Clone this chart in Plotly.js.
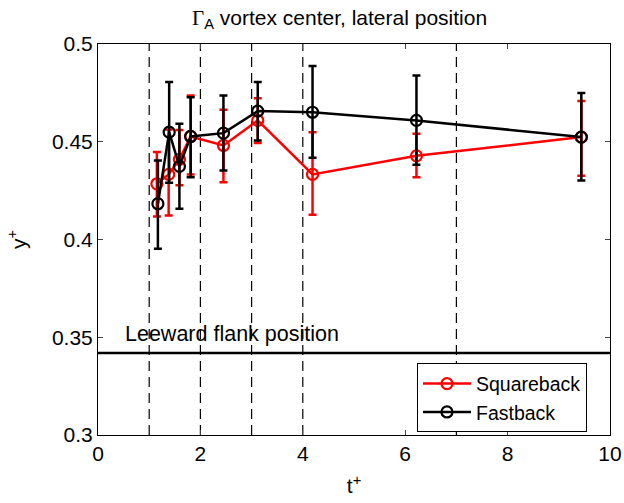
<!DOCTYPE html>
<html><head><meta charset="utf-8">
<script src="https://cdn.plot.ly/plotly-3.0.1.min.js"></script>
<style>body{margin:0;background:#fff}#plot{width:624px;height:503px}</style>
</head><body><div id="plot"></div>
<script>
// Data
const tSquare = [1.15, 1.38, 1.59, 1.81, 2.45, 3.12, 4.19, 6.22, 9.44];
const ySquare = [0.4285, 0.4333, 0.441, 0.4527, 0.4481, 0.4609, 0.4333, 0.4428, 0.4524];
const upSquare = [0.4447, 0.4563, 0.456, 0.4737, 0.4664, 0.4723, 0.4549, 0.4541, 0.4708];
const loSquare = [0.4118, 0.4123, 0.4277, 0.4333, 0.4293, 0.4493, 0.4127, 0.4319, 0.4326];

const tFast = [1.17, 1.39, 1.59, 1.81, 2.45, 3.12, 4.19, 6.22, 9.44];
const yFast = [0.4183, 0.4549, 0.4374, 0.4527, 0.4544, 0.4657, 0.4651, 0.4609, 0.4524];
const upFast = [0.4404, 0.4805, 0.4592, 0.4728, 0.4737, 0.4805, 0.4887, 0.4839, 0.4750];
const loFast = [0.3953, 0.429, 0.4157, 0.4319, 0.4353, 0.4507, 0.4418, 0.4382, 0.4302];

const dashedX = [1, 2, 3, 4, 7];
const leewardY = 0.342;
const leewardLabel = "Leeward flank position";
const seriesNames = ["Squareback", "Fastback"];

const FONT = "Liberation Sans, Arial, sans-serif";

function trace(t, y, up, lo, color, name) {
  return {
    x: t, y: y, type: 'scatter', mode: 'lines+markers', name: name,
    line: {color: color, width: 2.5},
    marker: {symbol: 'circle-open', size: 11, color: color, line: {width: 2.2, color: color}},
    error_y: {type: 'data', symmetric: false,
      array: up.map((u, i) => u - y[i]),
      arrayminus: lo.map((l, i) => y[i] - l),
      color: color, thickness: 2.5, width: 4}
  };
}

const data = [
  trace(tSquare, ySquare, upSquare, loSquare, '#ff0000', seriesNames[0]),
  trace(tFast, yFast, upFast, loFast, '#000000', seriesNames[1])
];

const shapes = dashedX.map(x => ({type: 'line', xref: 'x', yref: 'paper', x0: x, x1: x, y0: 0, y1: 1,
  line: {color: '#000', width: 1.2, dash: '10px,6px'}, layer: 'below'}));
shapes.push({type: 'line', xref: 'paper', yref: 'y', x0: 0, x1: 1, y0: leewardY, y1: leewardY,
  line: {color: '#000', width: 2.5}});

const layout = {
  width: 624, height: 503,
  margin: {l: 98, r: 14, t: 43.5, b: 68.3},
  paper_bgcolor: '#fff', plot_bgcolor: '#fff',
  font: {family: FONT, size: 21, color: '#000'},
  showlegend: true,
  legend: {x: 0.623, y: 0.183, xanchor: 'left', yanchor: 'top', bgcolor: '#fff',
    bordercolor: '#000', borderwidth: 1, font: {size: 19.5, family: FONT}, tracegroupgap: 0,
    itemwidth: 48},
  xaxis: {range: [0, 10], tickvals: [0, 2, 4, 6, 8, 10], ticks: 'inside', ticklen: 5, tickwidth: 1,
    showline: true, mirror: 'ticks', linecolor: '#000', linewidth: 1, showgrid: false, zeroline: false,
    tickfont: {size: 21}, title: {text: 't<sup>+</sup>', font: {size: 21}, standoff: 14}},
  yaxis: {range: [0.3, 0.5], tickvals: [0.3, 0.35, 0.4, 0.45, 0.5], ticktext: ['0.3','0.35','0.4','0.45','0.5'],
    ticks: 'inside', ticklen: 5, tickwidth: 1,
    showline: true, mirror: 'ticks', linecolor: '#000', linewidth: 1, showgrid: false, zeroline: false,
    tickfont: {size: 21}, title: {text: 'y<sup>+</sup>', font: {size: 21}, standoff: 19}},
  shapes: shapes,
  annotations: [
    {xref: 'paper', yref: 'y', x: 0.049, y: leewardY, xanchor: 'left', yanchor: 'bottom', yshift: 5,
      text: leewardLabel, showarrow: false, font: {size: 21.5}},
    {xref: 'paper', yref: 'paper', x: 0.5, y: 1, yanchor: 'bottom', yshift: 10, xshift: -15,
      text: '<span style="font-family:Liberation Serif, Times New Roman, serif">Γ</span><sub>A</sub> vortex center, lateral position',
      showarrow: false, font: {size: 21}}
  ]
};

Plotly.newPlot('plot', data, layout, {displayModeBar: false, staticPlot: true});
</script></body></html>
